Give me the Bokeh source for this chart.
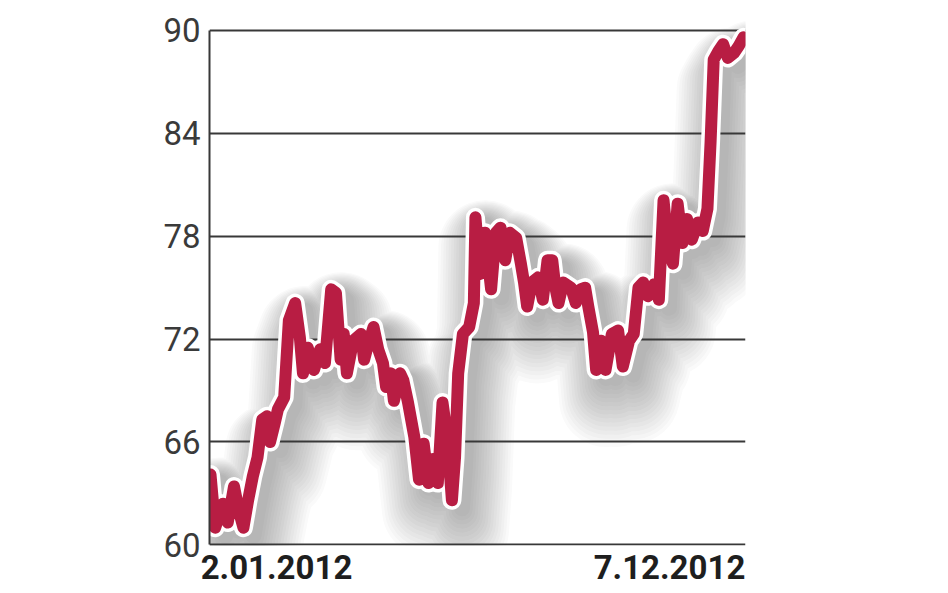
import numpy as np
from bokeh.plotting import figure
from bokeh.models import FixedTicker, Range1d
from bokeh.embed import file_html
from bokeh.resources import INLINE

# day offset from 2 Jan 2012, closing price
days = [0, 3, 8, 11, 15, 18, 21, 24, 27, 30, 33, 36, 38, 41, 43, 47, 50, 54, 57, 59,
        62, 66, 70, 73, 77, 80, 83, 85, 87, 91, 96, 98, 100, 104, 107, 110, 112, 115, 117, 121,
        123, 126, 130, 133, 136, 139, 142, 145, 148, 151, 154, 156, 158, 161, 165, 168, 169, 172, 175, 179,
        182, 185, 188, 191, 195, 198, 200, 202, 205, 209, 212, 215, 218, 220, 222, 225, 230, 233, 236, 239,
        241, 244, 246, 249, 252, 256, 260, 263, 267, 270, 273, 276, 279, 283, 286, 289, 292, 295, 298, 301,
        304, 307, 311, 314, 317, 319, 321, 324, 327, 330, 334, 337, 340]
price = [64.1, 61.0, 62.4, 61.3, 63.4, 62.0, 61.0, 62.6, 64.0, 65.1, 67.3, 67.5, 66.0, 67.1, 67.9, 68.6, 73.1, 74.1, 72.1, 70.0,
         71.5, 70.2, 71.4, 70.6, 74.9, 74.7, 70.8, 72.3, 70.0, 71.9, 72.3, 70.8, 71.5, 72.7, 71.4, 70.6, 69.2, 70.0, 68.4, 70.0,
         69.6, 68.3, 66.3, 63.8, 65.9, 63.6, 65.0, 63.6, 68.3, 66.3, 62.6, 65.1, 70.0, 72.3, 72.7, 74.1, 79.1, 75.8, 78.2, 74.9,
         78.2, 78.5, 76.6, 78.2, 77.9, 76.4, 75.3, 73.9, 75.3, 75.6, 74.3, 76.6, 76.6, 75.0, 74.1, 75.3, 75.0, 74.1, 74.9, 75.0,
         73.9, 72.4, 70.2, 71.9, 70.2, 72.3, 72.5, 70.4, 71.9, 72.3, 75.0, 75.3, 74.5, 75.2, 74.3, 80.1, 77.2, 76.4, 79.9, 77.6,
         79.0, 77.8, 78.8, 78.3, 79.6, 83.5, 88.3, 88.8, 89.2, 88.4, 88.7, 89.1, 89.6]
y_ticks = [60, 66, 72, 78, 84, 90]
start_label = "2.01.2012"
end_label = "7.12.2012"

PX_DAY = 340 / 533   # days per screen pixel
PX_VAL = 30 / 515    # price units per screen pixel

W, H = 940, 590
TOP_PAD = 12
p = figure(width=W, height=H, output_backend="svg", toolbar_location=None,
           x_range=Range1d(-1 * PX_DAY, 535 * PX_DAY),
           y_range=Range1d(59.96, 90 + TOP_PAD * PX_VAL),
           min_border_left=209, min_border_right=W - 745, min_border_top=30 - TOP_PAD,
           min_border_bottom=H - 545)
p.outline_line_color = None
p.background_fill_color = "white"
p.border_fill_color = "white"

d = np.array(days, dtype=float)
v = np.array(price, dtype=float)

# soft drop shadow (many faint layers, drawn below the grid)
sx = d + 10 * PX_DAY
n_layers = 16
for w, off in zip(np.linspace(94, 16, n_layers), np.linspace(30, 8, n_layers)):
    r = p.line(sx, v - off * PX_VAL, line_color="#2a2a2a", line_width=float(w), line_alpha=0.022,
               line_join="round", line_cap="round")
    r.level = "image"

# grid / axes
p.xgrid.visible = False
p.ygrid.ticker = FixedTicker(ticks=y_ticks)
p.ygrid.grid_line_color = "#383838"
p.ygrid.grid_line_width = 2
p.yaxis.ticker = FixedTicker(ticks=y_ticks)
p.yaxis.bounds = (60, 90)
p.yaxis.axis_line_color = "#383838"
p.yaxis.axis_line_width = 2
p.yaxis.major_tick_line_color = None
p.yaxis.minor_tick_line_color = None
p.yaxis.major_tick_out = 0
p.yaxis.major_tick_in = 0
p.yaxis.major_label_standoff = 9
p.yaxis.major_label_text_font = "Roboto"
p.yaxis.major_label_text_font_size = "33px"
p.yaxis.major_label_text_color = "#3a3a3a"

# date labels under the start and the end of the series (left / right aligned)
left_center = days[0] + 66 * PX_DAY
right_center = days[-1] - 74 * PX_DAY
p.xaxis.ticker = FixedTicker(ticks=[left_center, right_center])
p.xaxis.major_label_overrides = {left_center: start_label, right_center: end_label}
p.xaxis.axis_line_color = None
p.xaxis.major_tick_line_color = None
p.xaxis.minor_tick_line_color = None
p.xaxis.major_tick_out = 0
p.xaxis.major_tick_in = 0
p.xaxis.major_label_standoff = 9
p.xaxis.major_label_text_font = "Roboto"
p.xaxis.major_label_text_font_style = "bold"
p.xaxis.major_label_text_font_size = "33px"
p.xaxis.major_label_text_color = "#1e1e1e"

# price line with white outline
p.line(d, v, line_color="white", line_width=19, line_join="round", line_cap="round")
p.line(d, v, line_color="#b81d43", line_width=12, line_join="round", line_cap="round")

open("out.html", "w").write(file_html(p, INLINE))
